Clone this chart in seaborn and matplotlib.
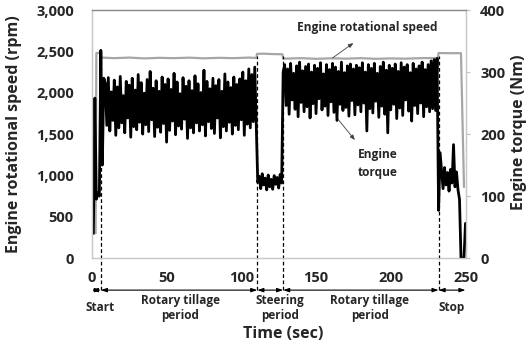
import numpy as np
import pandas as pd
import seaborn as sns
import matplotlib.pyplot as plt

# engine torque (Nm), one reading per second, t = 0..250
torque_nm = [
    40, 40, 258, 95, 105, 100, 335, 150, 290,
    # rotary tillage 1
    282, 214, 291, 205, 268, 222, 287, 198, 276, 210,
    293, 218, 262, 202, 285, 226, 279, 195, 290, 212,
    271, 207, 296, 219, 283, 200, 266, 215, 288, 204,
    301, 223, 274, 196, 286, 211, 269, 203, 292, 217,
    280, 187, 289, 206, 272, 221, 298, 199, 284, 213,
    265, 208, 291, 224, 277, 193, 286, 210, 270, 202,
    294, 218, 281, 205, 267, 215, 303, 197, 285, 220,
    273, 209, 290, 201, 278, 226, 288, 194, 269, 212,
    297, 205, 284, 219, 275, 200, 292, 214, 280, 207,
    289, 223, 300, 198, 286, 216, 305, 210, 296, 220,
    308, 215,
    # steering
    122, 132, 112, 136, 118, 129, 110, 134, 115, 127,
    111, 133, 119, 130, 113, 135, 121,
    300,
    # rotary tillage 2
    312, 246, 305, 232, 314, 255, 298, 240, 310, 228,
    316, 251, 302, 236, 309, 244, 313, 226, 300, 249,
    311, 233, 306, 257, 315, 239, 297, 245, 312, 230,
    304, 252, 314, 235, 308, 222, 301, 248, 316, 238,
    299, 243, 310, 229, 313, 254, 305, 231, 311, 247,
    307, 236, 315, 250, 300, 205, 312, 241, 306, 234,
    314, 253, 298, 227, 309, 245, 316, 232, 303, 202,
    311, 239, 306, 248, 313, 225, 301, 242, 315, 230,
    308, 255, 312, 237, 299, 221, 314, 246, 305, 233,
    310, 250, 316, 228, 304, 244, 312, 236, 318, 241,
    320, 238, 322,
    # stop
    77, 170, 140, 112, 146, 118, 138, 108, 143, 121,
    183, 115, 139, 110, 95, 0, 0, 0, 56,
]
torque_time = np.arange(len(torque_nm))

# engine speed (rpm) read at selected times
speed_time = [0, 2.5, 3, 6, 6.5, 15, 25, 35, 45, 55, 65, 75, 85, 95, 105, 110,
              110.5, 115, 120, 127.5, 128, 140, 150, 160, 170, 180, 190, 200,
              210, 220, 231.5, 232, 240, 247, 249]
speed_rpm = [300, 300, 2480, 2480, 2425, 2418, 2425, 2415, 2422, 2418, 2424,
             2416, 2422, 2418, 2425, 2420, 2470, 2472, 2468, 2465, 2412, 2418,
             2410, 2416, 2412, 2418, 2410, 2415, 2412, 2418, 2420, 2480, 2478,
             2478, 860]

period_bounds = [0, 6, 110.7, 128, 232, 250]
period_labels = ['Start', 'Rotary tillage\nperiod', 'Steering\nperiod',
                 'Rotary tillage\nperiod', 'Stop']
period_label_x = [5.4, 59, 126, 186, 241]

rpm_ticks = [0, 500, 1000, 1500, 2000, 2500, 3000]
rpm_labels = ['0', '500', '1,000', '1,500', '2,000', '2,500', '3,000']
nm_ticks = [0, 100, 200, 300, 400]
time_ticks = [0, 50, 100, 150, 200, 250]

sns.set_style('white')
plt.rcParams['font.family'] = ['Open Sans', 'DejaVu Sans']
plt.rcParams['font.weight'] = 'bold'

fig = plt.figure(figsize=(5.28, 3.46), dpi=100)
ax = fig.add_axes([0.174, 0.254, 0.709, 0.717])
ax2 = ax.twinx()

speed_df = pd.DataFrame({'time': speed_time, 'rpm': speed_rpm})
torque_df = pd.DataFrame({'time': torque_time, 'nm': torque_nm})

sns.lineplot(data=speed_df, x='time', y='rpm', ax=ax, color='#a6a6a6',
             lw=1.6, estimator=None)
sns.lineplot(data=torque_df, x='time', y='nm', ax=ax2, color='black',
             lw=2.0, estimator=None)

ax.set_xlim(0, 250.5)
ax.set_ylim(0, 3000)
ax2.set_ylim(0, 400)
ax.set_xticks(time_ticks)
ax.set_xticklabels([str(v) for v in time_ticks], fontsize=10.5, fontweight='bold')
ax.set_yticks(rpm_ticks)
ax.set_yticklabels(rpm_labels, fontsize=10.5, fontweight='bold')
ax2.set_yticks(nm_ticks)
ax2.set_yticklabels([str(v) for v in nm_ticks], fontsize=10.5, fontweight='bold')
ax.set_xlabel('')
ax.set_ylabel('')
ax2.set_ylabel('')

ax.tick_params(axis='y', length=0, pad=13)
ax.tick_params(axis='x', length=0, pad=9)
ax2.tick_params(axis='y', length=3, width=0.8, color='#bfbfbf', pad=7)

for a in (ax, ax2):
    for s in a.spines.values():
        s.set_color('#c8c8c8')
        s.set_linewidth(0.9)
    a.spines['top'].set_color('#8c8c8c')

# period markers below the axis
y_arrow = -387
for b in period_bounds[1:-1]:
    ax.plot([b, b], [y_arrow, 2440], ls=(0, (3, 2)), color='black', lw=0.9,
            clip_on=False, zorder=5)
for x0, x1 in zip(period_bounds[:-1], period_bounds[1:]):
    ax.annotate('', xy=(x1, y_arrow), xytext=(x0, y_arrow),
                arrowprops=dict(arrowstyle='<|-|>,head_length=0.35,head_width=0.12',
                                color='black', lw=0.8, shrinkA=0, shrinkB=0),
                annotation_clip=False)
for lab, x in zip(period_labels, period_label_x):
    ax.text(x, -600, lab, ha='center', va='center', fontsize=8.5,
            fontweight='bold')

ax.text(184, 2783, 'Engine rotational speed', ha='center', va='center',
        fontsize=8.6, fontweight='bold')
ax.annotate('', xy=(175, 2601), xytext=(161, 2420),
            arrowprops=dict(arrowstyle='-|>,head_length=0.3,head_width=0.12',
                            color='#404040', lw=0.6, shrinkA=0, shrinkB=0))
ax.text(191, 1150, 'Engine\ntorque', ha='center', va='center',
        fontsize=8.6, fontweight='bold', linespacing=1.5)
ax.annotate('', xy=(176, 1428), xytext=(164, 1694),
            arrowprops=dict(arrowstyle='-|>,head_length=0.3,head_width=0.12',
                            color='#404040', lw=0.6, shrinkA=0, shrinkB=0))

fig.text(14 / 528, 1 - 134 / 346, 'Engine rotational speed (rpm)', rotation=90,
         ha='center', va='center', fontsize=11.5, fontweight='bold')
fig.text(519 / 528, 1 - 132 / 346, 'Engine torque (Nm)', rotation=90,
         ha='center', va='center', fontsize=11.5, fontweight='bold')
fig.text(283 / 528, 1 - 334 / 346, 'Time (sec)', ha='center', va='center',
         fontsize=11.5, fontweight='bold')

fig.savefig('out.png', dpi=100)
plt.close(fig)
